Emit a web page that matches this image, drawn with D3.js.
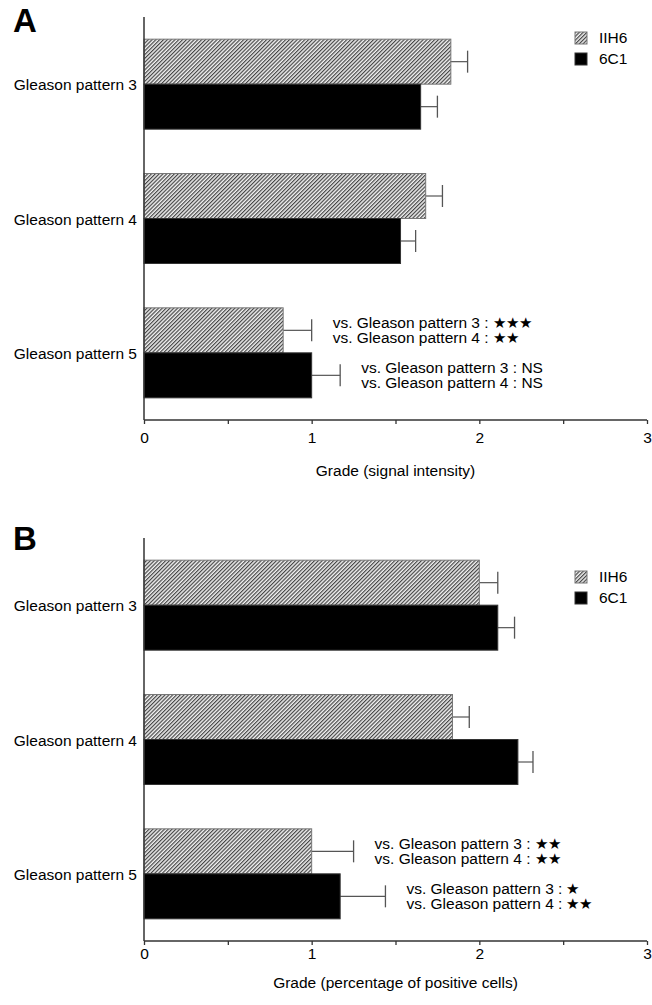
<!DOCTYPE html>
<html>
<head>
<meta charset="utf-8">
<script src="https://cdn.jsdelivr.net/npm/d3@7"></script>
<style>
  body { margin: 0; background: #fff; }
  text { font-family: "Liberation Sans", Arial, sans-serif; fill: #000; }
</style>
</head>
<body>
<div id="chart"></div>
<script>
// data
var categories = ['Gleason pattern 3', 'Gleason pattern 4', 'Gleason pattern 5'];
var series = ['IIH6', '6C1'];
var xTicks = [0, 0.5, 1, 1.5, 2, 2.5, 3];
var xTickLabels = ['0', '', '1', '', '2', '', '3'];

var intensityIIH6 = [1.83, 1.68, 0.83];
var intensityIIH6Err = [0.10, 0.10, 0.17];
var intensity6C1 = [1.65, 1.53, 1.00];
var intensity6C1Err = [0.10, 0.09, 0.17];

var positiveIIH6 = [2.00, 1.84, 1.00];
var positiveIIH6Err = [0.11, 0.10, 0.25];
var positive6C1 = [2.11, 2.23, 1.17];
var positive6C1Err = [0.10, 0.09, 0.27];

var notesA = { 'IIH6': ['***', '**'], '6C1': ['NS', 'NS'] };
var notesB = { 'IIH6': ['**', '**'], '6C1': ['*', '**'] };

var svgWidth = 652;
var svgHeight = 1005;

var svg = d3.select('#chart').append('svg')
    .attr('width', svgWidth)
    .attr('height', svgHeight);

// hatch for IIH6
var defs = svg.append('defs');
var hatch = defs.append('pattern')
    .attr('id', 'hatch')
    .attr('patternUnits', 'userSpaceOnUse')
    .attr('width', 2.7)
    .attr('height', 2.7)
    .attr('patternTransform', 'rotate(45)');
hatch.append('rect').attr('width', 2.7).attr('height', 2.7).attr('fill', '#f2f2f2');
hatch.append('rect').attr('width', 1.2).attr('height', 2.7).attr('fill', '#444');

var xScale = d3.scaleLinear().domain([0, 3]).range([144, 647]);

function drawPanel(p) {
    var g = svg.append('g');
    var top = p.top, bottom = p.top + 403;

    var yScale = d3.scalePoint().domain(categories).range([top, bottom]).padding(0.5);
    var barScale = d3.scaleBand().domain(series).range([-45, 45]);

    // panel letter
    g.append('text')
        .attr('x', 13)
        .attr('y', p.letterY)
        .attr('font-size', '33px')
        .attr('font-weight', 'bold')
        .text(p.letter);

    var rows = [];
    categories.forEach(function(c, i) {
        rows.push({ cat: c, s: 'IIH6', v: p.iih6[i], e: p.iih6Err[i], i: i });
        rows.push({ cat: c, s: '6C1', v: p.c6c1[i], e: p.c6c1Err[i], i: i });
    });

    var mid = d => yScale(d.cat) + barScale(d.s) + barScale.bandwidth() / 2;

    // error bars
    var err = g.selectAll('.err').data(rows).enter().append('g');
    err.append('line')
        .attr('x1', d => xScale(d.v))
        .attr('x2', d => xScale(d.v + d.e))
        .attr('y1', mid)
        .attr('y2', mid)
        .attr('stroke', '#555')
        .attr('stroke-width', 1.2);
    err.append('line')
        .attr('x1', d => xScale(d.v + d.e))
        .attr('x2', d => xScale(d.v + d.e))
        .attr('y1', d => mid(d) - 11)
        .attr('y2', d => mid(d) + 11)
        .attr('stroke', '#555')
        .attr('stroke-width', 1.3);

    // bars
    g.selectAll('.bar').data(rows).enter().append('rect')
        .attr('x', xScale(0))
        .attr('y', d => yScale(d.cat) + barScale(d.s))
        .attr('width', d => xScale(d.v) - xScale(0))
        .attr('height', barScale.bandwidth())
        .attr('fill', d => d.s === 'IIH6' ? 'url(#hatch)' : '#000')
        .attr('stroke', d => d.s === 'IIH6' ? '#777' : '#333')
        .attr('stroke-width', 1);

    // category labels
    g.selectAll('.cat').data(categories).enter().append('text')
        .attr('x', 137)
        .attr('y', d => yScale(d) + 6)
        .attr('text-anchor', 'end')
        .attr('font-size', '15.5px')
        .text(d => d);

    // significance notes on the last group
    rows.filter(d => d.i === 2).forEach(function(d) {
        var cx = xScale(d.v + d.e) + 21;
        var cy = mid(d);
        p.notes[d.s].forEach(function(n, k) {
            var label = 'vs. Gleason pattern ' + (k + 3) + ' :';
            if (n === 'NS') label += ' ' + n;
            var t = g.append('text')
                .attr('x', cx)
                .attr('y', cy - 2 + k * 15)
                .attr('font-size', '15.5px')
                .text(label);
            if (n !== 'NS') {
                var w = t.node().getComputedTextLength();
                g.append('text')
                    .attr('x', cx + w + 4)
                    .attr('y', cy - 2 + k * 15)
                    .attr('font-family', 'DejaVu Sans')
                    .attr('font-size', '15px')
                    .text(n.replace(/\*/g, '\u2605'));
            }
        });
    });

    // y axis line
    g.append('line')
        .attr('x1', xScale(0)).attr('x2', xScale(0))
        .attr('y1', top).attr('y2', bottom)
        .attr('stroke', '#333').attr('stroke-width', 1.5);

    // x axis
    var xAxis = g.append('g')
        .attr('transform', `translate(0, ${bottom})`)
        .call(d3.axisBottom(xScale).tickValues(xTicks).tickSize(4)
            .tickFormat((d, i) => xTickLabels[i]));
    xAxis.select('.domain').attr('stroke', '#333').attr('stroke-width', 1.5)
        .attr('d', `M${xScale(0)},0H${xScale(3)}`);
    xAxis.selectAll('.tick line').attr('stroke', '#333').attr('stroke-width', 1.3);
    xAxis.selectAll('.tick text')
        .attr('font-size', '15.5px')
        .attr('font-family', '"Liberation Sans", Arial, sans-serif')
        .attr('fill', '#000')
        .attr('dy', null)
        .attr('y', p.tickY);

    g.append('text')
        .attr('x', (xScale(0) + xScale(3)) / 2)
        .attr('y', bottom + p.titleY)
        .attr('text-anchor', 'middle')
        .attr('font-size', '15.5px')
        .text(p.title);

    // legend
    var legend = g.append('g').attr('transform', `translate(575, ${top + p.legendY})`);
    series.forEach(function(s, i) {
        legend.append('rect')
            .attr('x', 0).attr('y', i * 21)
            .attr('width', 12).attr('height', 12)
            .attr('fill', s === 'IIH6' ? 'url(#hatch)' : '#000')
            .attr('stroke', s === 'IIH6' ? '#777' : '#333');
        legend.append('text')
            .attr('x', 24).attr('y', i * 21 + 11)
            .attr('font-size', '15.5px')
            .text(s);
    });
}

drawPanel({
    top: 17, letter: 'A', letterY: 32, tickY: 23, titleY: 56, legendY: 15,
    title: 'Grade (signal intensity)',
    iih6: intensityIIH6, iih6Err: intensityIIH6Err,
    c6c1: intensity6C1, c6c1Err: intensity6C1Err,
    notes: notesA
});

drawPanel({
    top: 538, letter: 'B', letterY: 550, tickY: 18, titleY: 47, legendY: 33,
    title: 'Grade (percentage of positive cells)',
    iih6: positiveIIH6, iih6Err: positiveIIH6Err,
    c6c1: positive6C1, c6c1Err: positive6C1Err,
    notes: notesB
});
</script>
</body>
</html>
